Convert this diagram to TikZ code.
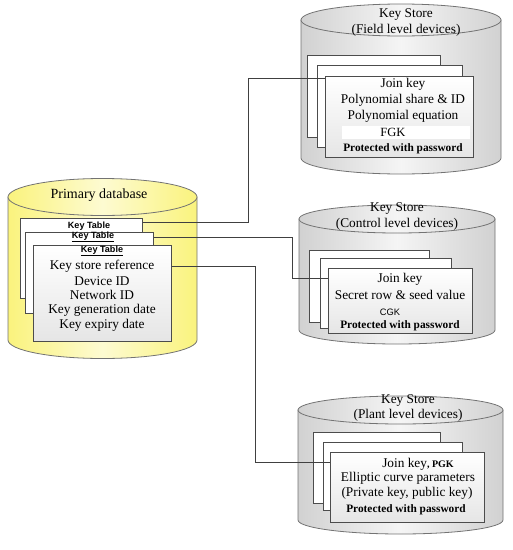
\documentclass[tikz,border=0pt]{standalone}
\usepackage{fontspec}
\setmainfont{Liberation Serif}
\newfontfamily\tablefont{Liberation Sans}
\usetikzlibrary{positioning}
\definecolor{dbyellow}{RGB}{250,243,125}

\newcommand{\drumshape}[7]{%
	\draw[#7] (#1, #3)--(#1, #4) arc[start angle = 180, end angle = 360, x radius = #5, y radius = #6]--(#2, #3)--cycle;
	\draw[#7] ({(#1+#2)/2}, #3) ellipse [x radius = #5, y radius = #6];
}

\tikzset{
	dbbody/.style = {draw = black!55, line width = 0.6pt, left color = dbyellow, right color = dbyellow, middle color = dbyellow!35},
	storebody/.style = {draw = black!55, line width = 0.6pt, left color = black!18, right color = black!18, middle color = black!4},
	card/.style = {draw = black!70, line width = 0.6pt, fill = white, inner sep = 0pt, anchor = north west},
	frontcard/.style = {card, top color = white, bottom color = black!10},
	cardtext/.style = {font = \fontsize{10}{12}\selectfont, inner sep = 0pt},
	tablehead/.style = {font = \tablefont\bfseries\fontsize{6.8}{8}\selectfont, inner sep = 0pt},
	pwtext/.style = {font = \bfseries\fontsize{8.5}{10}\selectfont, inner sep = 0pt},
	link/.style = {draw = black!75, line width = 0.6pt}
}

\begin{document}
\begin{tikzpicture}[x = 0.75pt, y = -0.75pt]
	\useasboundingbox (0, 0) rectangle (513, 550);
	\drumshape{8}{197}{197}{340}{70.875pt}{13.875pt}{dbbody}
	\drumshape{301}{501}{20}{158}{75pt}{12pt}{storebody}
	\drumshape{299}{495}{219}{330}{73.5pt}{10.5pt}{storebody}
	\drumshape{298}{503}{410}{520}{76.875pt}{10.5pt}{storebody}

	\node (dbtitle) at (99, 195) [cardtext, font = \fontsize{10.5}{12}\selectfont] {Primary database};
	\node (pA) at (20, 218) [card, minimum width = 91.5pt, minimum height = 60pt] {};
	\node (pB) at (25, 232) [card, minimum width = 96pt, minimum height = 60.75pt] {};
	\node (pC) at (33, 245) [frontcard, minimum width = 103.5pt, minimum height = 72pt] {};
	\node (pAhead) at (89, 226) [tablehead] {Key Table};
	\node (pBhead) at (93, 237) [tablehead] {\underline{Key Table}};
	\node (pChead) at (102, 251) [tablehead] {\underline{Key Table}};
	\node (pCa) at (102, 266) [cardtext] {Key store reference};
	\node (pCb) at (102, 281) [cardtext] {Device ID};
	\node (pCc) at (102, 295) [cardtext] {Network ID};
	\node (pCd) at (102, 310) [cardtext] {Key generation date};
	\node (pCe) at (102, 325) [cardtext] {Key expiry date};

	\node (ftitle) at (406, 15) [cardtext] {Key Store};
	\node (fsub) at (406, 30) [cardtext] {(Field level devices)};
	\node (fA) at (307, 55) [card, minimum width = 99.75pt, minimum height = 61.5pt] {};
	\node (fB) at (317, 65) [card, minimum width = 108.75pt, minimum height = 61.5pt] {};
	\node (fC) at (325, 76) [frontcard, minimum width = 111pt, minimum height = 60.75pt] {};
	\fill[white] (342, 126) rectangle (470, 139);
	\node (fCa) at (403, 84) [cardtext] {Join key};
	\node (fCb) at (403, 100) [cardtext] {Polynomial share \& ID};
	\node (fCc) at (403, 116) [cardtext] {Polynomial equation};
	\node (fCd) at (393, 132) [cardtext, font = \fontsize{9.4}{11}\selectfont] {FGK};
	\node (fCe) at (403, 149) [pwtext] {Protected with password};

	\node (ctitle) at (397, 209) [cardtext] {Key Store};
	\node (csub) at (397, 224) [cardtext] {(Control level devices)};
	\node (cA) at (309, 250) [card, minimum width = 90pt, minimum height = 54pt] {};
	\node (cB) at (320, 258) [card, minimum width = 98.25pt, minimum height = 52.5pt] {};
	\node (cC) at (328, 268) [frontcard, minimum width = 108pt, minimum height = 48.75pt] {};
	\node (cCa) at (400, 279) [cardtext] {Join key};
	\node (cCb) at (400, 295) [cardtext] {Secret row \& seed value};
	\node (cCc) at (390, 312) [tablehead, font = \tablefont\fontsize{7}{8}\selectfont] {CGK};
	\node (cCd) at (400, 326) [pwtext] {Protected with password};

	\node (ltitle) at (408, 401) [cardtext] {Key Store};
	\node (lsub) at (408, 415) [cardtext] {(Plant level devices)};
	\node (lA) at (313, 432) [card, minimum width = 95.25pt, minimum height = 53.25pt] {};
	\node (lB) at (323, 442) [card, minimum width = 104.25pt, minimum height = 51pt] {};
	\node (lC) at (330, 452) [frontcard, minimum width = 115.5pt, minimum height = 52.5pt] {};
	\node (lCa) at (418, 464) [cardtext] {Join key{\bfseries\fontsize{7.5}{9}\selectfont, PGK}};
	\node (lCb) at (408, 478) [cardtext] {Elliptic curve parameters};
	\node (lCc) at (407, 493) [cardtext] {(Private key, public key)};
	\node (lCd) at (406, 510) [pwtext] {Protected with password};

	\coordinate (bendA) at (248, 78);
	\coordinate (bendB) at (292, 278);
	\coordinate (bendC) at (255, 462);
	\draw[link] ([yshift = -3pt]pA.north east) -| (bendA) -- (bendA -| fC.west);
	\draw[link] ([yshift = -3.75pt]pB.north east) -| (bendB) -- (bendB -| cC.west);
	\draw[link] ([yshift = -15.75pt]pC.north east) -| (bendC) -- (bendC -| lC.west);
\end{tikzpicture}
\end{document}
